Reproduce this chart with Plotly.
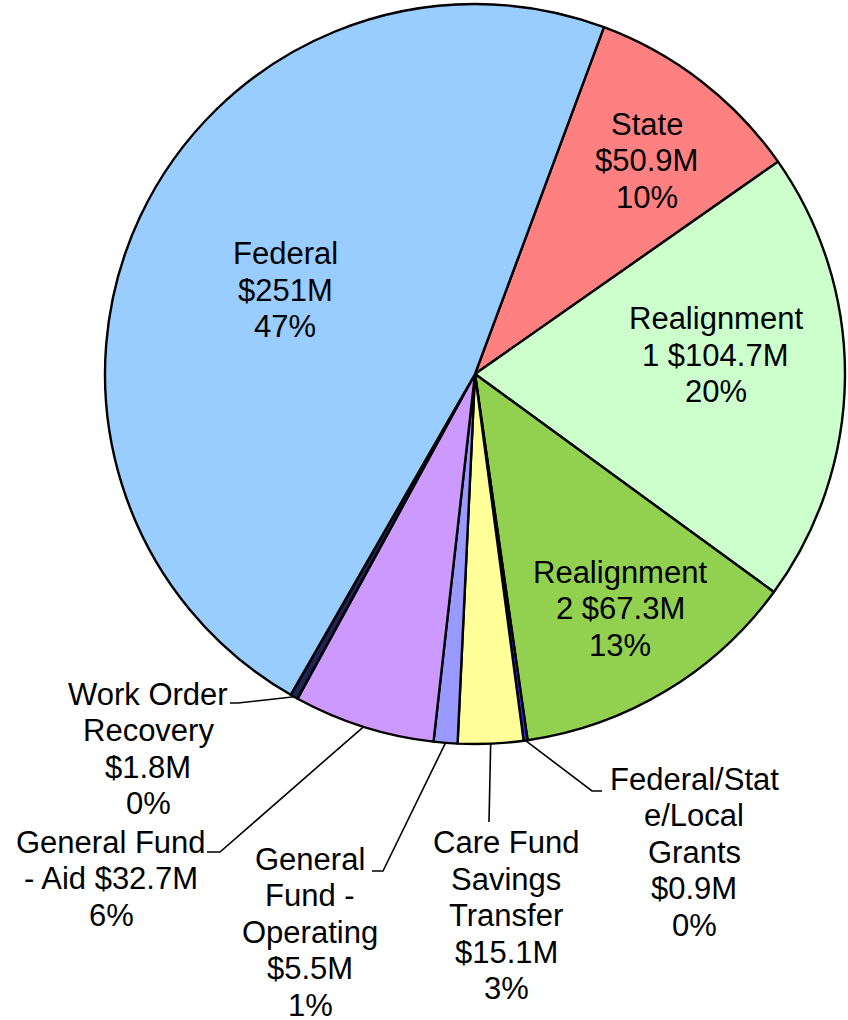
import math
import plotly.graph_objects as go

# ---------------- data ----------------
categories = ["State", "Realignment 1", "Realignment 2", "Federal/State/Local Grants",
              "Care Fund Savings Transfer", "General Fund - Operating",
              "General Fund - Aid", "Work Order Recovery", "Federal"]
values = [50.9, 104.7, 67.3, 0.9, 15.1, 5.5, 32.7, 1.8, 251]
# label text as wrapped in the original chart
wrapped_names = ["State", "Realignment\n1", "Realignment\n2", "Federal/Stat\ne/Local\nGrants",
                 "Care Fund\nSavings\nTransfer", "General\nFund -\nOperating",
                 "General Fund\n- Aid", "Work Order\nRecovery", "Federal"]
value_inline = [False, True, True, False, False, False, True, False, False]

# ---------------- style ----------------
colors = ["#FF8080", "#CCFFCC", "#92D050", "#3333FF", "#FFFF99", "#9999FF",
          "#CC99FF", "#222255", "#99CCFF"]
W, H = 848, 1020
CX, CY, R = 475, 374, 370          # pie centre / radius in pixels
ROTATION = 20.4
FONT = dict(family="Arial, Liberation Sans, sans-serif", size=31, color="black")
LH = 36.5                           # line height in px

# label placement: inside -> (radius fraction, angle offset); outside -> text / leader geometry
placement = {
    "State": dict(kind="in", rf=0.740, da=1.2),
    "Realignment 1": dict(kind="in", rf=0.653, da=-5.0),
    "Realignment 2": dict(kind="in", rf=0.746, da=-0.7),
    "Federal": dict(kind="in", rf=0.561, da=-1.3),
    "Federal/State/Local Grants": dict(kind="out", tx=694, ty=779, elbow=(592, 791), end=(602, 791)),
    "Care Fund Savings Transfer": dict(kind="out", tx=506, ty=842.5, elbow=(489, 822), end=(489, 822)),
    "General Fund - Operating": dict(kind="out", tx=310, ty=859, elbow=(383, 871), end=(372, 871)),
    "General Fund - Aid": dict(kind="out", tx=111, ty=842, elbow=(220, 852), end=(207, 852)),
    "Work Order Recovery": dict(kind="out", tx=148, ty=694, elbow=(238, 703), end=(230, 703)),
}


def px(x):
    return x / W


def py(y):
    return 1 - y / H


total = sum(values)
percents = [round(v / total * 100) for v in values]

fig = go.Figure(go.Pie(
    labels=categories, values=values, sort=False, direction="clockwise",
    rotation=ROTATION, textinfo="none", hoverinfo="label+value+percent",
    marker=dict(colors=colors, line=dict(color="black", width=2.4)),
    domain=dict(x=[px(CX - R), px(CX + R)], y=[py(CY + R), py(CY - R)]),
    showlegend=False,
))

annotations = []
shapes = []
cum = ROTATION
for name, v, p, wn, inl in zip(categories, values, percents, wrapped_names, value_inline):
    span = v / total * 360
    mid = cum + span / 2
    cum += span
    lines = wn.split("\n")
    val = f"${v:g}M"
    if inl:
        lines[-1] += " " + val
    else:
        lines.append(val)
    lines.append(f"{p}%")
    pl = placement[name]
    if pl["kind"] == "in":
        a = math.radians(mid + pl["da"])
        cx = CX + pl["rf"] * R * math.sin(a)
        cy = CY - pl["rf"] * R * math.cos(a)
        y0 = cy - (len(lines) - 1) / 2 * LH
    else:
        cx, y0 = pl["tx"], pl["ty"]
        a = math.radians(mid)
        rx = CX + R * math.sin(a)
        ry = CY - R * math.cos(a)
        ex, ey = pl["elbow"]
        fx, fy = pl["end"]
        shapes.append(dict(type="path", xref="paper", yref="paper",
                           path=f"M {px(rx)} {py(ry)} L {px(ex)} {py(ey)} L {px(fx)} {py(fy)}",
                           line=dict(color="black", width=1.6)))
    for i, ln in enumerate(lines):
        annotations.append(dict(x=px(cx), y=py(y0 + i * LH), xref="paper", yref="paper",
                                text=ln, showarrow=False, xanchor="center", yanchor="middle",
                                font=FONT))

fig.update_layout(width=W, height=H, margin=dict(l=0, r=0, t=0, b=0),
                  paper_bgcolor="white", plot_bgcolor="white",
                  annotations=annotations, shapes=shapes)
fig.write_html("out.html")
